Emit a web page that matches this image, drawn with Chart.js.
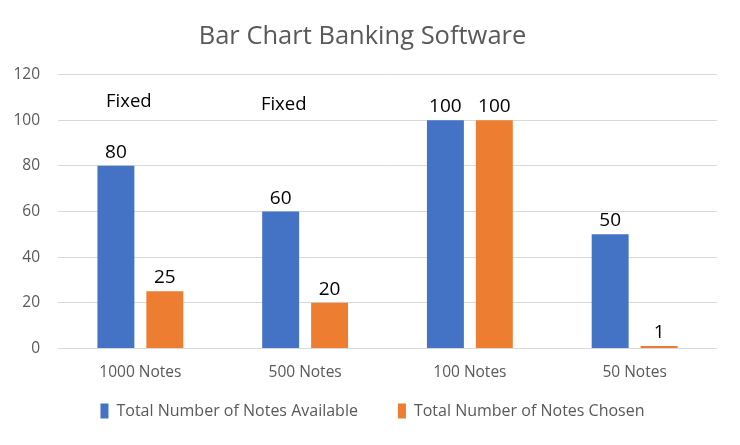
<!DOCTYPE html>
<html>
<head>
<meta charset="utf-8">
<script src="https://cdn.jsdelivr.net/npm/chart.js@4.4.1/dist/chart.umd.min.js"></script>
<style>
  html, body { margin: 0; padding: 0; background: #fff; }
  #box { width: 740px; height: 445px; }
</style>
</head>
<body>
<div id="box"><canvas id="grafico"></canvas></div>
<script>
// valores
const categorias = ['1000 Notes', '500 Notes', '100 Notes', '50 Notes'];
const disponiveis = [80, 60, 100, 50];
const escolhidas = [25, 20, 100, 1];
// anotações "Fixed" (em coordenadas do próprio gráfico)
const notasFixas = ['Fixed', 'Fixed'];
const fixasX = [-0.07, 0.87];
const fixasY = [108.2, 106.9];

const AZUL = '#4472C4';
const LARANJA = '#ED7D31';
const CINZA = '#595959';
const FONTE = '"Open Sans", "Noto Sans", sans-serif';

// rótulos em cima das barras + o texto "Fixed"
const rotulos = {
    id: 'rotulos',
    afterInit(chart) {
        // legenda com espaço largo entre itens, mas sem a altura extra do padding
        const leg = chart.legend;
        const fit0 = leg.fit.bind(leg);
        const draw0 = leg.draw.bind(leg);
        leg.fit = () => { fit0(); leg.height = 56; };
        leg.draw = () => {
            leg.top -= 26; leg.left += 10; leg.right += 10;
            draw0();
            leg.top += 26; leg.left -= 10; leg.right -= 10;
        };
    },
    afterDatasetsDraw(chart) {
        const ctx = chart.ctx;
        ctx.save();
        ctx.fillStyle = '#000';
        ctx.font = '19px ' + FONTE;
        ctx.textAlign = 'center';
        ctx.textBaseline = 'alphabetic';
        chart.data.datasets.forEach((ds, i) => {
            chart.getDatasetMeta(i).data.forEach((bar, j) => {
                ctx.fillText(ds.data[j], bar.x, bar.y - 8);
            });
        });
        const x = chart.scales.x;
        const y = chart.scales.y;
        ctx.font = '18.5px ' + FONTE;
        ctx.textBaseline = 'middle';
        notasFixas.forEach((txt, j) => {
            ctx.fillText(txt, x.getPixelForValue(fixasX[j]), y.getPixelForValue(fixasY[j]));
        });
        ctx.restore();
    }
};

new Chart(document.getElementById('grafico'), {
    type: 'bar',
    data: {
        labels: categorias,
        datasets: [{
            label: 'Total Number of Notes Available',
            data: disponiveis,
            backgroundColor: AZUL,
            barPercentage: 0.755,
            categoryPercentage: 0.594
        }, {
            label: 'Total Number of Notes Chosen',
            data: escolhidas,
            backgroundColor: LARANJA,
            barPercentage: 0.755,
            categoryPercentage: 0.594
        }]
    },
    options: {
        responsive: true,
        maintainAspectRatio: false,
        animation: false,
        layout: { padding: { left: 8, right: 23, top: 11, bottom: 0 } },
        plugins: {
            title: {
                display: true,
                text: 'Bar Chart Banking Software',
                color: CINZA,
                font: { family: FONTE, size: 25.5, weight: 'normal' },
                padding: { top: 10, bottom: 23 }
            },
            legend: {
                position: 'bottom',
                labels: {
                    color: CINZA,
                    font: { family: FONTE, size: 16 },
                    boxWidth: 8,
                    boxHeight: 15,
                    padding: 40
                }
            },
            tooltip: { enabled: false }
        },
        scales: {
            x: {
                grid: { display: false },
                border: { display: false },
                ticks: { color: CINZA, font: { family: FONTE, size: 15.5 }, padding: 7 }
            },
            y: {
                min: 0,
                max: 120,
                ticks: { stepSize: 20, color: CINZA, font: { family: FONTE, size: 15.5 }, padding: 18 },
                grid: { color: '#D9D9D9', drawTicks: false },
                border: { display: false },
                afterFit: (s) => { s.width = 50; }
            }
        }
    },
    plugins: [rotulos]
});
</script>
</body>
</html>
